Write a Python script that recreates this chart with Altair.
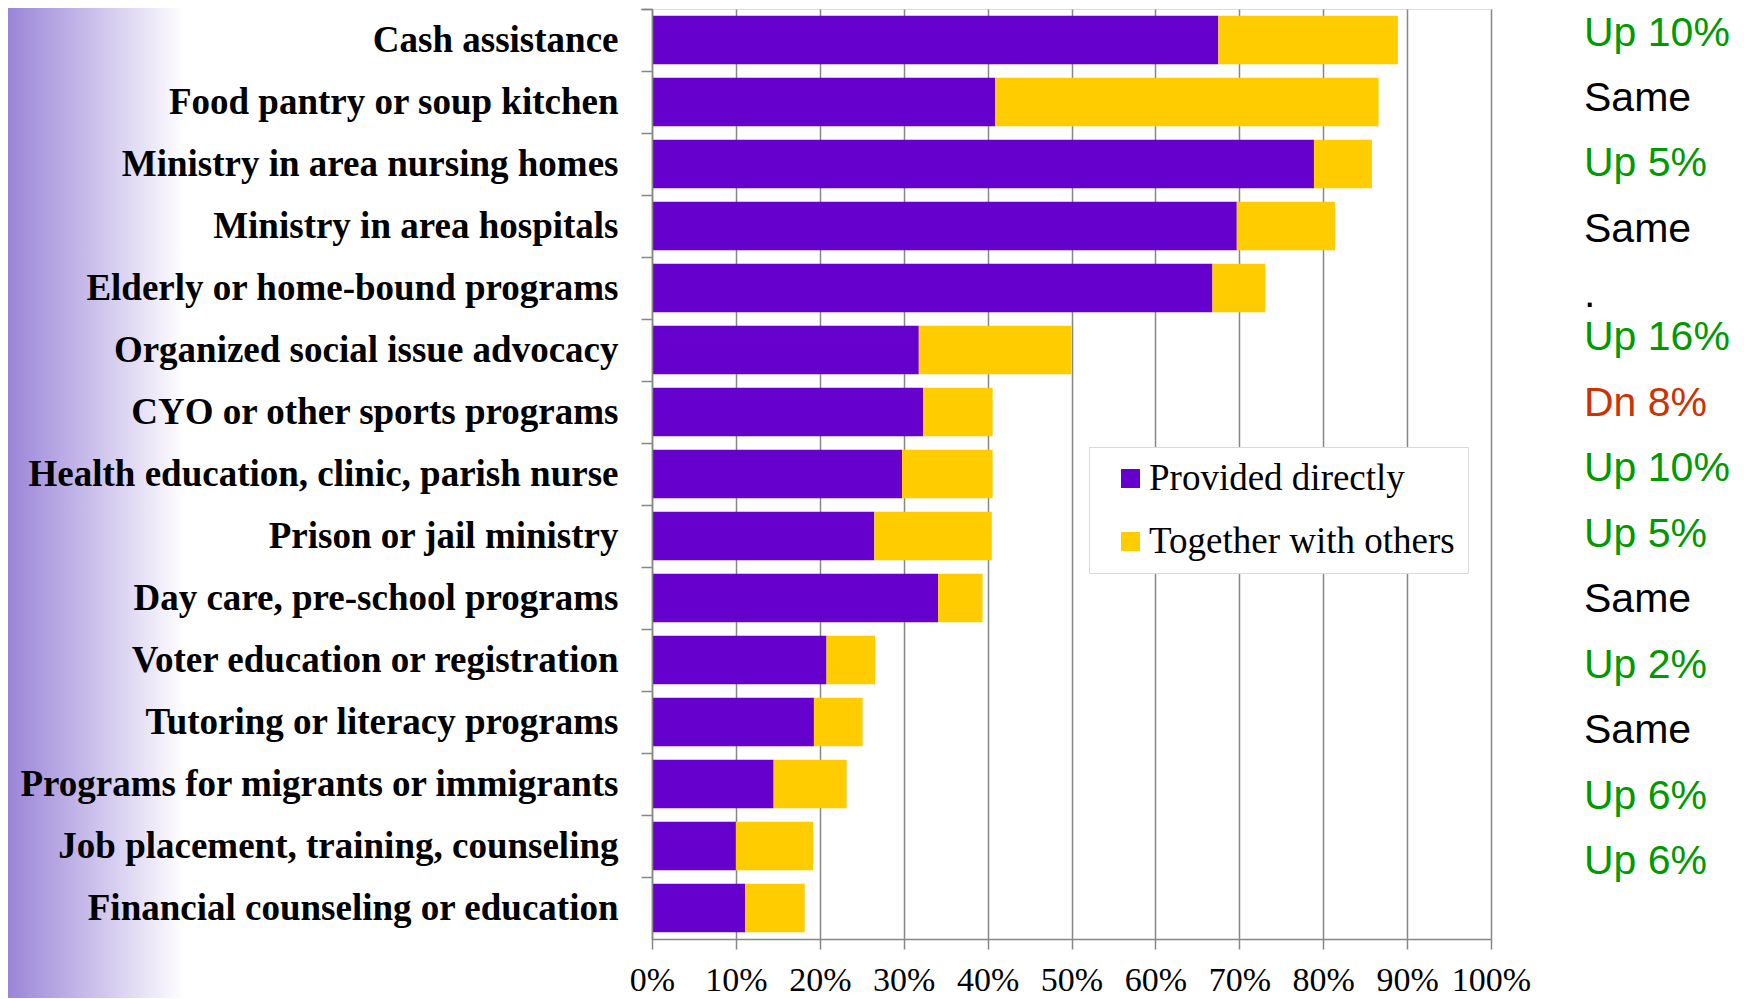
import altair as alt
import pandas as pd

categories = [
    "Cash assistance",
    "Food pantry or soup kitchen",
    "Ministry in area nursing homes",
    "Ministry in area hospitals",
    "Elderly or home-bound programs",
    "Organized social issue advocacy",
    "CYO or other sports programs",
    "Health education, clinic, parish nurse",
    "Prison or jail ministry",
    "Day care, pre-school programs",
    "Voter education or registration",
    "Tutoring or literacy programs",
    "Programs for migrants or immigrants",
    "Job placement, training, counseling",
    "Financial counseling or education",
]
series = ["Provided directly", "Together with others"]
provided = [67.5, 40.9, 78.9, 69.7, 66.8, 31.8, 32.3, 29.8, 26.5, 34.1, 20.8, 19.3, 14.5, 10.0, 11.1]
together = [21.4, 45.7, 6.9, 11.7, 6.3, 18.2, 8.3, 10.8, 14.0, 5.3, 5.8, 5.8, 8.7, 9.2, 7.1]
x_ticks = [0, 10, 20, 30, 40, 50, 60, 70, 80, 90, 100]

notes = ["Up 10%", "Same", "Up 5%", "Same", ".", "Up 16%", "Dn 8%", "Up 10%",
         "Up 5%", "Same", "Up 2%", "Same", "Up 6%", "Up 6%"]
note_kind = ["up", "same", "up", "same", "same", "up", "down", "up",
             "up", "same", "up", "same", "up", "up"]
note_line = [0, 1, 2, 3, 4, 4.66, 5.66, 6.66, 7.66, 8.66, 9.66, 10.66, 11.66, 12.66]

PURPLE = "#6600cc"
YELLOW = "#ffcc00"
GRAY = "#868686"
kind_color = {"up": "#009900", "same": "#000000", "down": "#cc3300"}

W, H = 839, 930
STEP = H / len(categories)
HALF_GAP = 0.11 * STEP

rows = []
for i, c in enumerate(categories):
    rows.append({"cat": c, "series": series[0], "idx": 0, "val": provided[i]})
    rows.append({"cat": c, "series": series[1], "idx": 1, "val": together[i]})
df = pd.DataFrame(rows)

notes_df = pd.DataFrame({
    "note": notes,
    "line": note_line,
    "col": [kind_color[k] for k in note_kind],
})

# left purple gradient background
grad = alt.Chart(pd.DataFrame({"a": [0]})).mark_rect(
    color=alt.Gradient(
        gradient="linear",
        stops=[alt.GradientStop(color="#9a85d8", offset=0),
               alt.GradientStop(color="#ffffff", offset=1)],
        x1=0, x2=1, y1=0, y2=0,
    )
).encode(
    x=alt.value(-644), x2=alt.value(-467), y=alt.value(-1), y2=alt.value(989)
)

bars = alt.Chart(df).mark_bar().encode(
    y=alt.Y(
        "cat:N",
        sort=categories,
        scale=alt.Scale(domain=categories, paddingInner=0.22, paddingOuter=0.11),
        axis=alt.Axis(
            title=None,
            labelFont="Liberation Serif",
            labelFontWeight="bold",
            labelFontSize=37,
            labelColor="black",
            labelLimit=1000,
            labelPadding=23,
            ticks=True,
            tickSize=11,
            tickColor=GRAY,
            tickWidth=1.5,
            domainColor=GRAY,
            domainWidth=1.5,
            bandPosition=0,
            tickOffset=-HALF_GAP,
            labelOffset=HALF_GAP,
            tickExtra=True,
            zindex=1,
        ),
    ),
    x=alt.X(
        "val:Q",
        stack="zero",
        scale=alt.Scale(domain=[0, 100], nice=False),
        axis=alt.Axis(
            title=None,
            values=x_ticks,
            labelExpr="datum.value + '%'",
            labelFont="Liberation Serif",
            labelFontSize=34,
            labelColor="black",
            labelPadding=14,
            labelFlush=False,
            labelOverlap=False,
            tickSize=10,
            tickColor=GRAY,
            tickWidth=1.5,
            domainColor=GRAY,
            domainWidth=1.5,
            grid=True,
            gridColor=GRAY,
            gridWidth=1.5,
        ),
    ),
    color=alt.Color(
        "series:N",
        sort=series,
        scale=alt.Scale(domain=series, range=[PURPLE, YELLOW]),
        legend=alt.Legend(
            title=None,
            orient="none",
            legendX=437,
            legendY=438,
            direction="vertical",
            fillColor="white",
            strokeColor="#d9d9d9",
            padding=13,
            symbolOffset=10,
            symbolType="square",
            symbolSize=361,
            symbolStrokeWidth=0,
            symbolOpacity=1,
            labelFont="Liberation Serif",
            labelFontSize=37,
            labelColor="black",
            labelOffset=0,
            labelLimit=600,
            rowPadding=25,
        ),
    ),
    order=alt.Order("idx:Q"),
)

d0 = -36.5 / 65.45
d1 = d0 + H / 65.45
notes_layer = alt.Chart(notes_df).mark_text(
    align="left",
    baseline="alphabetic",
    font="Liberation Sans",
    fontSize=41,
).encode(
    x=alt.value(932),
    y=alt.Y("line:Q", scale=alt.Scale(domain=[d0, d1], reverse=True, nice=False, zero=False), axis=None),
    text="note:N",
    color=alt.Color("col:N", scale=None),
)

chart = alt.layer(grad, bars, notes_layer).resolve_scale(
    y="independent", color="independent"
).properties(
    width=W,
    height=H,
    padding={"left": 644, "top": 1, "right": 245, "bottom": 60},
    autosize=alt.AutoSizeParams(type="none"),
).configure_view(stroke=None).configure(background="white")

chart.save("out.html", embed_options={"renderer": "svg", "actions": False})
